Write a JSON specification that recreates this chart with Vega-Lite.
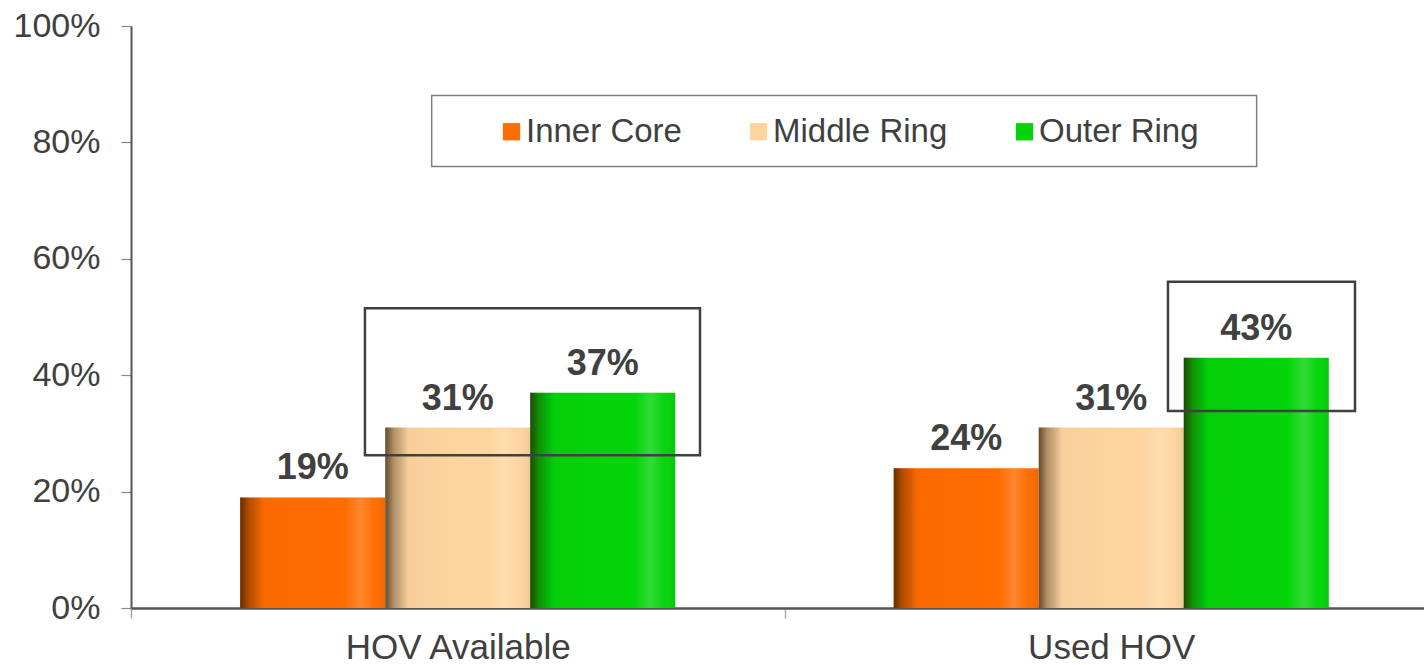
{
  "$schema": "https://vega.github.io/schema/vega-lite/v6.json",
  "width": 1293,
  "height": 582,
  "autosize": {"type": "none"},
  "padding": {"left": 131, "top": 26, "right": 0, "bottom": 57},
  "background": "white",
  "config": {
    "view": {"stroke": null},
    "font": "Liberation Sans",
    "axis": {"labelFont": "Liberation Sans", "labelColor": "#404040", "grid": false, "title": null, "labelLimit": 1000}
  },
  "resolve": {"scale": {"x": "independent"}},
  "layer": [
    {
      "data": {
        "values": [
          {"group": "HOV Available", "ring": "Inner Core", "value": 0.19},
          {"group": "HOV Available", "ring": "Middle Ring", "value": 0.31},
          {"group": "HOV Available", "ring": "Outer Ring", "value": 0.37},
          {"group": "Used HOV", "ring": "Inner Core", "value": 0.24},
          {"group": "Used HOV", "ring": "Middle Ring", "value": 0.31},
          {"group": "Used HOV", "ring": "Outer Ring", "value": 0.43}
        ]
      },
      "encoding": {
        "x": {
          "field": "group", "type": "nominal",
          "scale": {"domain": ["HOV Available", "Used HOV"], "range": [0, 1307], "paddingInner": 0, "paddingOuter": 0},
          "axis": {
            "labelAngle": 0, "labelFontSize": 35, "labelPadding": 12, "labelLimit": 1000,
            "tickBand": "extent", "tickSize": 10, "tickColor": "#aaaaaa", "tickWidth": 1.5,
            "domainColor": "#555555", "domainWidth": 2.5
          }
        },
        "xOffset": {
          "field": "ring", "type": "nominal",
          "scale": {"domain": ["Inner Core", "Middle Ring", "Outer Ring"], "paddingInner": 0, "paddingOuter": 0.753}
        },
        "y": {
          "field": "value", "type": "quantitative",
          "scale": {"domain": [0, 1], "nice": false, "zero": true},
          "axis": {
            "format": ".0%", "values": [0, 0.2, 0.4, 0.6, 0.8, 1],
            "labelFontSize": 34, "labelPadding": 21,
            "tickSize": 10, "tickColor": "#888888", "tickWidth": 1.2,
            "domainColor": "#555555", "domainWidth": 2
          }
        }
      },
      "layer": [
        {
          "mark": {"type": "bar"},
          "encoding": {
            "color": {
              "field": "ring", "type": "nominal",
              "scale": {"domain": ["Inner Core", "Middle Ring", "Outer Ring"], "range": ["#ff6c00", "#fed59f", "#04d40a"]},
              "legend": {
                "orient": "none", "legendX": 364, "legendY": 89,
                "direction": "horizontal", "title": null,
                "symbolType": "square", "symbolSize": 300, "symbolStrokeWidth": 0, "symbolOpacity": 1,
                "labelFontSize": 33, "labelFont": "Liberation Sans", "labelColor": "#404040",
                "labelOffset": -2, "columnPadding": 60, "padding": 0, "labelLimit": 0
              }
            }
          }
        },
        {
          "mark": {
            "type": "bar",
            "fill": {
              "gradient": "linear", "x1": 0, "x2": 1, "y1": 0, "y2": 0,
              "stops": [
                {"offset": 0, "color": "rgba(40,20,0,0.72)"},
                {"offset": 0.06, "color": "rgba(40,20,0,0.35)"},
                {"offset": 0.16, "color": "rgba(0,0,0,0.03)"},
                {"offset": 0.3, "color": "rgba(0,0,0,0.02)"},
                {"offset": 0.72, "color": "rgba(255,255,255,0)"},
                {"offset": 0.83, "color": "rgba(255,255,255,0.18)"},
                {"offset": 0.92, "color": "rgba(255,255,255,0.02)"},
                {"offset": 1, "color": "rgba(0,0,0,0.06)"}
              ]
            }
          }
        },
        {
          "mark": {"type": "text", "baseline": "alphabetic", "dy": -18, "fontSize": 36, "fontWeight": "bold", "font": "Liberation Sans", "color": "#404040"},
          "encoding": {"text": {"field": "value", "type": "quantitative", "format": ".0%"}}
        }
      ]
    },
    {
      "data": {
        "values": [
          {"x0": 0.358, "x1": 0.8707, "y0": 0.2626, "y1": 0.5149},
          {"x0": 1.5868, "x1": 1.873, "y0": 0.3383, "y1": 0.5606}
        ]
      },
      "mark": {"type": "rect", "filled": false, "stroke": "#404040", "strokeWidth": 2.5},
      "encoding": {
        "x": {"field": "x0", "type": "quantitative", "scale": {"domain": [0, 2], "range": [0, 1307], "nice": false, "zero": false}, "axis": null},
        "x2": {"field": "x1"},
        "y": {"field": "y0", "type": "quantitative"},
        "y2": {"field": "y1"}
      }
    },
    {
      "data": {
        "values": [
          {"x0": 0.4601, "x1": 1.7225, "y0": 0.7584, "y1": 0.8805}
        ]
      },
      "mark": {"type": "rect", "filled": false, "stroke": "#808080", "strokeWidth": 1.5},
      "encoding": {
        "x": {"field": "x0", "type": "quantitative", "scale": {"domain": [0, 2], "range": [0, 1307], "nice": false, "zero": false}, "axis": null},
        "x2": {"field": "x1"},
        "y": {"field": "y0", "type": "quantitative"},
        "y2": {"field": "y1"}
      }
    }
  ]
}
